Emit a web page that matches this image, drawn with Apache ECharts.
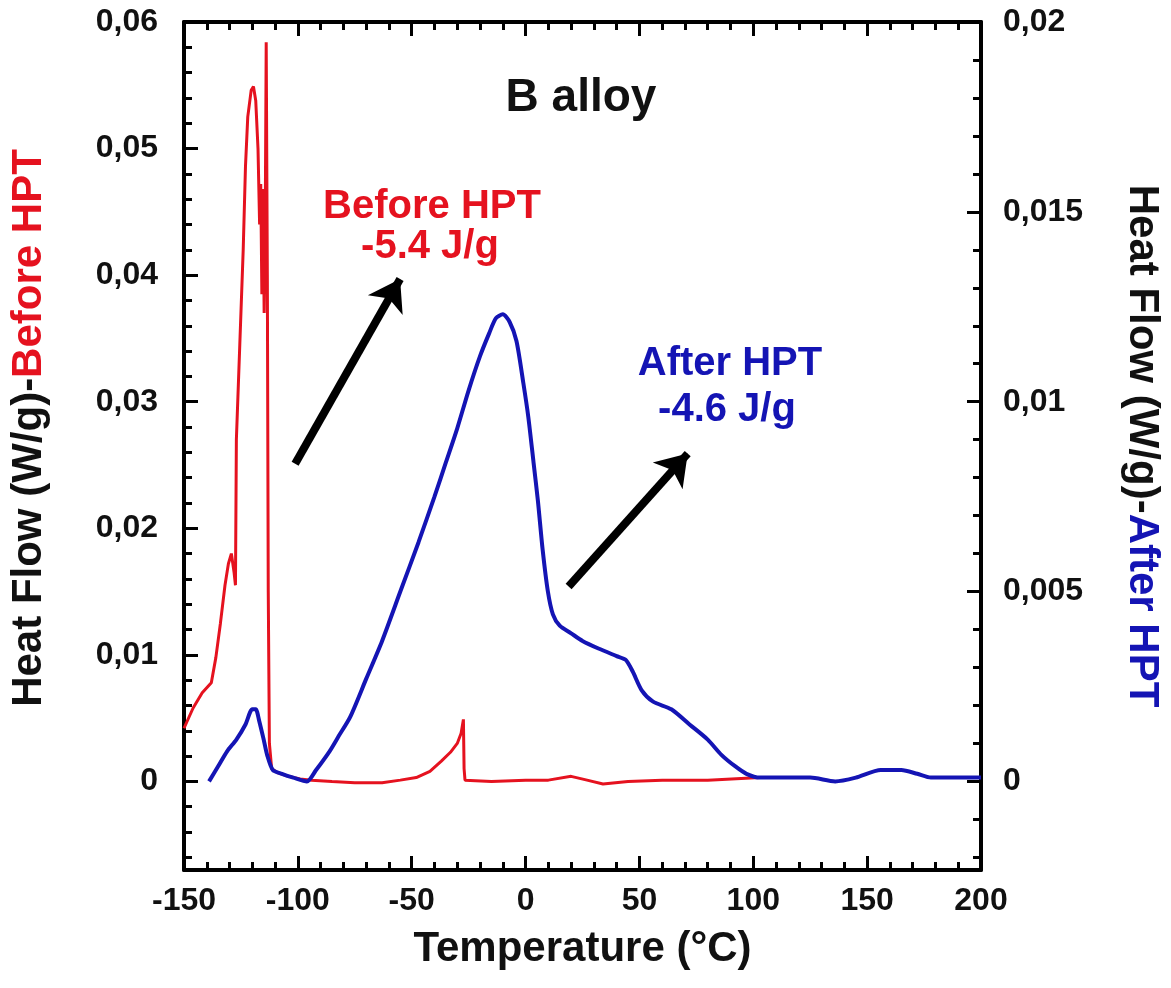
<!DOCTYPE html>
<html>
<head>
<meta charset="utf-8">
<title>B alloy DSC</title>
<script src="https://cdn.jsdelivr.net/npm/echarts@6/dist/echarts.min.js"></script>
<style>
  html, body { margin: 0; padding: 0; background: #fff; }
  #chart { width: 1171px; height: 988px; }
</style>
</head>
<body>
<div id="chart"></div>
<script>
// Temperature axis (°C)
const xMin = -150, xMax = 200, xStep = 50;

// Left axis: heat flow before HPT (W/g)
const leftMin = -0.007, leftMax = 0.06;
const leftTicks = [0, 0.01, 0.02, 0.03, 0.04, 0.05, 0.06];
const leftMinorTicks = [-0.006, -0.004, -0.002, 0.002, 0.004, 0.006, 0.008, 0.012, 0.014, 0.016, 0.018,
  0.022, 0.024, 0.026, 0.028, 0.032, 0.034, 0.036, 0.038, 0.042, 0.044, 0.046, 0.048,
  0.052, 0.054, 0.056, 0.058];

// Right axis: heat flow after HPT (W/g)
const rightMin = -0.007 / 3, rightMax = 0.02;
const rightTicks = [0, 0.005, 0.01, 0.015, 0.02];
const rightMinorTicks = [-0.002, -0.001, 0.001, 0.002, 0.003, 0.004, 0.006, 0.007, 0.008, 0.009,
  0.011, 0.012, 0.013, 0.014, 0.016, 0.017, 0.018, 0.019];

// DSC trace before HPT: [temperature, heat flow]
const beforeHPT = [
  [-150, 0.0042], [-146, 0.0058], [-142, 0.0070], [-138, 0.0078], [-136, 0.0098], [-134, 0.0125],
  [-132, 0.0155], [-130.5, 0.0172], [-129.2, 0.0180], [-128, 0.0165], [-127.4, 0.0155],
  [-127, 0.0270], [-125.5, 0.0345], [-124, 0.0420], [-123, 0.0486], [-122, 0.0525],
  [-120.5, 0.0546], [-119.5, 0.0549], [-118.5, 0.0538], [-117.5, 0.0500], [-116.8, 0.0440],
  [-116.3, 0.0472], [-115.8, 0.0385], [-115.3, 0.0468], [-114.8, 0.0370], [-114.3, 0.0450],
  [-113.9, 0.0584], [-113.4, 0.0400], [-113, 0.0150], [-112.5, 0.0030], [-111.5, 0.0010],
  [-109, 0.0007], [-104, 0.0004], [-99, 0.0002], [-94, 0.0001], [-85, 0.0000], [-75, -0.0001],
  [-63, -0.0001], [-55, 0.0001], [-48, 0.0003], [-42, 0.0008], [-37, 0.0016], [-33, 0.0023],
  [-30, 0.0030], [-28.3, 0.0038], [-27.3, 0.0049], [-27, 0.0010], [-26.6, 0.0001],
  [-15, 0.0000], [0, 0.0001], [10, 0.0001], [20, 0.0004], [27, 0.0001], [34, -0.0002],
  [45, 0.0000], [60, 0.0001], [80, 0.0001], [103, 0.0003]
];

// DSC trace after HPT: [temperature, heat flow]
const afterHPT = [
  [-139, 0.0000], [-135, 0.0004], [-131, 0.0008], [-127, 0.0011], [-123, 0.0015],
  [-120, 0.0019], [-118.5, 0.0019], [-117, 0.0016], [-115, 0.0011], [-113.5, 0.0007],
  [-111, 0.0003], [-107, 0.0002], [-102, 0.0001], [-96, 0.0000], [-92, 0.0003],
  [-86, 0.0008], [-82, 0.0012], [-77, 0.0017], [-70, 0.0027], [-63, 0.0037], [-55, 0.0050],
  [-47, 0.0063], [-40, 0.0075], [-35, 0.0084], [-30, 0.0093], [-25, 0.0103], [-20, 0.0112],
  [-16, 0.0118], [-13, 0.0122], [-10, 0.0123], [-7, 0.0121], [-4, 0.0116], [-1, 0.0105],
  [1.2, 0.0096], [3.5, 0.0084], [5.4, 0.0074], [7.5, 0.0061], [9.8, 0.0050], [12, 0.0044],
  [15, 0.0041], [20, 0.0039], [25, 0.0037], [32, 0.0035], [40, 0.0033], [44, 0.0032],
  [47, 0.0029], [51, 0.0024], [56, 0.0021], [64, 0.0019], [72, 0.0015], [80, 0.0011],
  [86, 0.0007], [92, 0.0004], [97, 0.0002], [103, 0.0001], [115, 0.0001], [125, 0.0001],
  [136, 0.0000], [145, 0.0001], [156, 0.0003], [165, 0.0003], [172, 0.0002], [178, 0.0001],
  [190, 0.0001], [200, 0.0001]
];

// Annotation arrows, in temperature / left-axis units: [[tail], [head]]
const arrowBefore = [[-101.2, 0.0251], [-55.1, 0.0397]];
const arrowAfter = [[18.9, 0.0154], [71.2, 0.0259]];

const RED = '#e5121f';
const BLUE = '#1414b4';
const FONT = '"Liberation Sans", Arial, Helvetica, sans-serif';

const fmt = v => (v === 0 ? '0' : String(parseFloat(v.toFixed(3))).replace('.', ','));

const frameLine = { show: true, onZero: false, lineStyle: { color: '#000', width: 4 } };
const tickLabel = { fontFamily: FONT, fontWeight: 'bold', fontSize: 32, color: '#111' };

function minorYAxis(position, min, max, values) {
  return {
    type: 'value', position, min, max,
    axisLine: { show: false, onZero: false },
    axisLabel: { show: false },
    splitLine: { show: false },
    axisTick: { show: true, inside: true, length: 8, customValues: values,
      lineStyle: { color: '#000', width: 3 } }
  };
}

const xBase = {
  type: 'value', min: xMin, max: xMax, interval: xStep,
  axisLine: frameLine,
  splitLine: { show: false },
  axisTick: { show: true, inside: true, length: 14, lineStyle: { color: '#000', width: 3 } },
  minorTick: { show: true, splitNumber: 5, length: 8, lineStyle: { color: '#000', width: 3 } }
};

const titleRich = color => ({
  k: { fontFamily: FONT, fontWeight: 'bold', fontSize: 42, color: '#111' },
  c: { fontFamily: FONT, fontWeight: 'bold', fontSize: 42, color }
});

const chart = echarts.init(document.getElementById('chart'), null, { renderer: 'canvas' });

chart.setOption({
  backgroundColor: '#fff',
  animation: false,
  grid: { left: 180, right: 187, top: 22, bottom: 118, containLabel: false },
  xAxis: [
    Object.assign({}, xBase, {
      position: 'bottom',
      axisLabel: Object.assign({ margin: 15 }, tickLabel),
      name: 'Temperature (°C)',
      nameLocation: 'middle',
      nameGap: 58,
      nameTextStyle: { fontFamily: FONT, fontWeight: 'bold', fontSize: 42, color: '#111' }
    }),
    Object.assign({}, xBase, { position: 'top', axisLabel: { show: false } })
  ],
  yAxis: [
    {
      type: 'value', position: 'left', min: leftMin, max: leftMax,
      axisLine: frameLine,
      splitLine: { show: false },
      axisTick: { show: true, inside: true, length: 14, customValues: leftTicks,
        lineStyle: { color: '#000', width: 3 } },
      axisLabel: Object.assign({ margin: 26, customValues: leftTicks, formatter: fmt }, tickLabel),
      name: '{k|Heat Flow (W/g)-}{c|Before HPT}',
      nameLocation: 'middle',
      nameRotate: 90,
      nameGap: 134,
      nameTextStyle: { padding: [0, 0, 0, 36], rich: titleRich(RED) }
    },
    minorYAxis('left', leftMin, leftMax, leftMinorTicks),
    {
      type: 'value', position: 'right', min: rightMin, max: rightMax,
      axisLine: frameLine,
      splitLine: { show: false },
      axisTick: { show: true, inside: true, length: 14, customValues: rightTicks,
        lineStyle: { color: '#000', width: 3 } },
      axisLabel: Object.assign({ margin: 22, customValues: rightTicks, formatter: fmt }, tickLabel),
      name: '{k|Heat Flow (W/g)-}{c|After HPT}',
      nameLocation: 'middle',
      nameRotate: -90,
      nameGap: 140,
      nameTextStyle: { rich: titleRich(BLUE) }
    },
    minorYAxis('right', rightMin, rightMax, rightMinorTicks)
  ],
  series: [
    {
      name: 'Before HPT',
      type: 'line',
      xAxisIndex: 0, yAxisIndex: 0,
      data: beforeHPT,
      showSymbol: false,
      lineStyle: { color: RED, width: 3 },
      z: 3,
      markLine: {
        silent: true,
        symbol: ['none', 'arrow'],
        symbolSize: 30,
        label: { show: false },
        emphasis: { disabled: true },
        itemStyle: { color: '#000' },
        lineStyle: { color: '#000', width: 8, type: 'solid' },
        data: [
          [{ coord: arrowBefore[0] }, { coord: arrowBefore[1] }],
          [{ coord: arrowAfter[0] }, { coord: arrowAfter[1] }]
        ]
      }
    },
    {
      name: 'After HPT',
      type: 'line',
      xAxisIndex: 0, yAxisIndex: 2,
      data: afterHPT,
      showSymbol: false,
      smooth: 0.25,
      lineStyle: { color: BLUE, width: 4 },
      z: 4
    }
  ],
  graphic: [
    { type: 'text', x: 581, y: 98,
      style: { text: 'B alloy', align: 'center', verticalAlign: 'middle',
        font: 'bold 46px ' + FONT, fill: '#111' } },
    { type: 'text', x: 432, y: 207,
      style: { text: 'Before HPT', align: 'center', verticalAlign: 'middle',
        font: 'bold 40px ' + FONT, fill: RED } },
    { type: 'text', x: 430, y: 247,
      style: { text: '-5.4 J/g', align: 'center', verticalAlign: 'middle',
        font: 'bold 40px ' + FONT, fill: RED } },
    { type: 'text', x: 730, y: 364,
      style: { text: 'After HPT', align: 'center', verticalAlign: 'middle',
        font: 'bold 40px ' + FONT, fill: BLUE } },
    { type: 'text', x: 727, y: 410,
      style: { text: '-4.6 J/g', align: 'center', verticalAlign: 'middle',
        font: 'bold 40px ' + FONT, fill: BLUE } }
  ]
});
</script>
</body>
</html>
